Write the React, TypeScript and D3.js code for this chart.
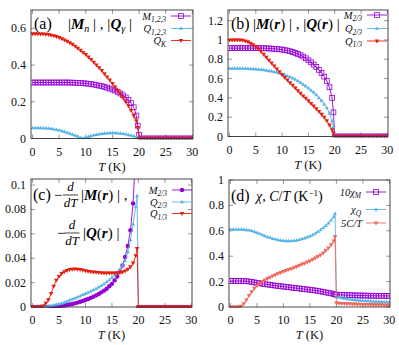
import React from 'react';
import * as d3 from 'd3';

// temperature grid (K)
const T = [
  0, 0.5, 1, 1.5, 2, 2.5, 3, 3.5, 4, 4.5,
  5, 5.5, 6, 6.5, 7, 7.5, 8, 8.5, 9, 9.5,
  10, 10.5, 11, 11.5, 12, 12.5, 13, 13.5, 14, 14.5,
  15, 15.5, 16, 16.5, 17, 17.5, 18, 18.5, 19, 19.5,
  19.75,
  20, 20.5, 21, 21.5, 22, 22.5, 23, 23.5, 24, 24.5, 25, 25.5, 26, 26.5, 27, 27.5, 28, 28.5, 29, 29.5, 30,
];

// (a) |M_n|, |Q_gamma|
const aM123 = [
  0.305, 0.305, 0.305, 0.305, 0.305, 0.305, 0.305, 0.305, 0.305, 0.305,
  0.305, 0.305, 0.305, 0.305, 0.305, 0.304, 0.304, 0.303, 0.302, 0.301,
  0.3, 0.298, 0.296, 0.294, 0.291, 0.288, 0.285, 0.281, 0.277, 0.272,
  0.267, 0.261, 0.254, 0.245, 0.235, 0.224, 0.21, 0.193, 0.17, 0.125,
  0.07,
  0.02, 0, 0, 0, 0, 0, 0, 0, 0, 0, 0, 0, 0, 0, 0, 0, 0, 0, 0, 0, 0,
];
const aQ123 = [
  0.057, 0.057, 0.057, 0.057, 0.056, 0.056, 0.055, 0.053, 0.051, 0.048,
  0.045, 0.041, 0.037, 0.032, 0.027, 0.022, 0.016, 0.011, 0.005, 0.001,
  0.006, 0.01, 0.014, 0.018, 0.021, 0.024, 0.026, 0.028, 0.029, 0.03,
  0.03, 0.03, 0.029, 0.028, 0.026, 0.023, 0.02, 0.016, 0.012, 0.007,
  0.004,
  0, 0, 0, 0, 0, 0, 0, 0, 0, 0, 0, 0, 0, 0, 0, 0, 0, 0, 0, 0, 0,
];
const aQK = [
  0.57, 0.57, 0.57, 0.569, 0.569, 0.568, 0.566, 0.563, 0.56, 0.555,
  0.55, 0.544, 0.537, 0.53, 0.522, 0.513, 0.503, 0.492, 0.481, 0.469,
  0.457, 0.444, 0.43, 0.415, 0.4, 0.385, 0.37, 0.353, 0.335, 0.318,
  0.3, 0.281, 0.262, 0.242, 0.222, 0.2, 0.178, 0.153, 0.125, 0.095,
  0.06,
  0, 0, 0, 0, 0, 0, 0, 0, 0, 0, 0, 0, 0, 0, 0, 0, 0, 0, 0, 0, 0,
];

// (b) |M(r)|, |Q(r)|
const bM23 = [
  0.915, 0.915, 0.915, 0.915, 0.915, 0.915, 0.915, 0.915, 0.915, 0.915,
  0.915, 0.915, 0.915, 0.914, 0.913, 0.912, 0.91, 0.908, 0.906, 0.903,
  0.9, 0.895, 0.89, 0.883, 0.875, 0.866, 0.855, 0.842, 0.827, 0.81,
  0.79, 0.768, 0.745, 0.72, 0.69, 0.658, 0.62, 0.575, 0.51, 0.4,
  0.25,
  0, 0, 0, 0, 0, 0, 0, 0, 0, 0, 0, 0, 0, 0, 0, 0, 0, 0, 0, 0, 0,
];
const bQ23 = [
  0.705, 0.705, 0.705, 0.705, 0.705, 0.704, 0.704, 0.703, 0.7, 0.699,
  0.697, 0.695, 0.692, 0.689, 0.685, 0.68, 0.675, 0.669, 0.663, 0.655,
  0.647, 0.638, 0.627, 0.616, 0.603, 0.59, 0.575, 0.558, 0.54, 0.52,
  0.5, 0.478, 0.455, 0.43, 0.4, 0.37, 0.335, 0.295, 0.24, 0.16,
  0.1,
  0, 0, 0, 0, 0, 0, 0, 0, 0, 0, 0, 0, 0, 0, 0, 0, 0, 0, 0, 0, 0,
];
const bQ13 = [
  1.0, 1.0, 1.0, 1.0, 1.0, 0.998, 0.99, 0.98, 0.965, 0.95,
  0.93, 0.906, 0.88, 0.851, 0.82, 0.79, 0.76, 0.73, 0.7, 0.67,
  0.64, 0.612, 0.585, 0.557, 0.53, 0.502, 0.475, 0.447, 0.42, 0.395,
  0.37, 0.342, 0.315, 0.287, 0.26, 0.23, 0.2, 0.163, 0.12, 0.07,
  0.04,
  0, 0, 0, 0, 0, 0, 0, 0, 0, 0, 0, 0, 0, 0, 0, 0, 0, 0, 0, 0, 0,
];

// (c) -d/dT |M(r)|, -d/dT |Q(r)|
const cM23 = [
  0, 0, 0, 0, 0, 0, 0, 0.0001, 0.0002, 0.0004,
  0.0006, 0.0009, 0.0012, 0.0016, 0.002, 0.0025, 0.003, 0.0036, 0.0043, 0.005,
  0.0058, 0.0066, 0.0075, 0.0085, 0.0095, 0.0107, 0.012, 0.0134, 0.015, 0.017,
  0.019, 0.0218, 0.025, 0.029, 0.034, 0.041, 0.05, 0.063, 0.085, 0.13,
  null,
  0, 0, 0, 0, 0, 0, 0, 0, 0, 0, 0, 0, 0, 0, 0, 0, 0, 0, 0, 0, 0,
];
const cQ23 = [
  0, 0, 0, 0, 0.0002, 0.0004, 0.0008, 0.0011, 0.0015, 0.002,
  0.0025, 0.003, 0.0038, 0.0046, 0.0055, 0.0063, 0.0072, 0.0081, 0.009, 0.01,
  0.011, 0.012, 0.013, 0.014, 0.015, 0.0162, 0.0175, 0.019, 0.0205, 0.0222,
  0.024, 0.026, 0.028, 0.031, 0.034, 0.038, 0.045, 0.055, 0.068, 0.082,
  0.091,
  0, 0, 0, 0, 0, 0, 0, 0, 0, 0, 0, 0, 0, 0, 0, 0, 0, 0, 0, 0, 0,
];
const cQ13 = [
  0, 0, 0, 0.0002, 0.0008, 0.003, 0.006, 0.011, 0.017, 0.022,
  0.025, 0.0275, 0.029, 0.03, 0.0307, 0.031, 0.0312, 0.031, 0.0307, 0.0303,
  0.0298, 0.0294, 0.029, 0.0287, 0.0285, 0.0282, 0.028, 0.0279, 0.0278, 0.0278,
  0.0278, 0.0278, 0.028, 0.0283, 0.0288, 0.0296, 0.031, 0.033, 0.036, 0.042,
  0.048,
  0, 0, 0, 0, 0, 0, 0, 0, 0, 0, 0, 0, 0, 0, 0, 0, 0, 0, 0, 0, 0,
];

// (d) chi, C/T
const dChiM10 = [
  0.205, 0.205, 0.205, 0.205, 0.205, 0.204, 0.203, 0.201, 0.198, 0.194,
  0.19, 0.187, 0.183, 0.18, 0.177, 0.174, 0.171, 0.168, 0.166, 0.163,
  0.161, 0.158, 0.156, 0.153, 0.151, 0.148, 0.146, 0.143, 0.141, 0.138,
  0.136, 0.133, 0.13, 0.127, 0.123, 0.119, 0.115, 0.111, 0.107, 0.102,
  0.1,
  0.097, 0.096, 0.095, 0.094, 0.093, 0.093, 0.092, 0.092, 0.091, 0.091, 0.09,
  0.09, 0.089, 0.089, 0.089, 0.088, 0.088, 0.088, 0.088, 0.087, 0.087,
];
const dChiQ = [
  0.61, 0.61, 0.61, 0.61, 0.61, 0.609, 0.607, 0.604, 0.6, 0.593,
  0.585, 0.577, 0.568, 0.56, 0.552, 0.545, 0.538, 0.533, 0.528, 0.525,
  0.522, 0.52, 0.52, 0.52, 0.522, 0.525, 0.53, 0.535, 0.542, 0.55,
  0.558, 0.568, 0.58, 0.592, 0.607, 0.622, 0.64, 0.66, 0.683, 0.71,
  0.735,
  0.08, 0.075, 0.071, 0.067, 0.064, 0.061, 0.058, 0.056, 0.054, 0.052, 0.05,
  0.048, 0.047, 0.045, 0.044, 0.043, 0.042, 0.041, 0.04, 0.039, 0.038,
];
const dC5 = [
  0, 0, 0, 0, 0.005, 0.025, 0.055, 0.09, 0.12, 0.148,
  0.168, 0.186, 0.2, 0.213, 0.225, 0.235, 0.245, 0.254, 0.263, 0.272,
  0.28, 0.288, 0.295, 0.302, 0.31, 0.318, 0.327, 0.336, 0.345, 0.354,
  0.363, 0.374, 0.385, 0.397, 0.41, 0.426, 0.445, 0.465, 0.49, 0.52,
  0.555,
  0.032, 0.03, 0.028, 0.027, 0.026, 0.025, 0.024, 0.023, 0.022, 0.021, 0.02,
  0.02, 0.019, 0.019, 0.018, 0.018, 0.017, 0.017, 0.016, 0.016, 0.015,
];

const xTicks = [0, 5, 10, 15, 20, 25, 30];
const aYTicks = ['0', '0.2', '0.4', '0.6'];
const bYTicks = ['0', '0.2', '0.4', '0.6', '0.8', '1', '1.2'];
const cYTicks = ['0', '0.02', '0.04', '0.06', '0.08', '0.1'];
const dYTicks = ['0', '0.2', '0.4', '0.6', '0.8', '1'];

const PURPLE = '#9400d3';
const CYAN = '#56b4e9';
const RED = '#e51e10';
const RED_LIGHT = '#f0685c';
const FONT = "'Liberation Serif', 'Times New Roman', serif";

type Kind = 'square' | 'tri' | 'itri' | 'circle';

function Marker({ kind, x, y, color }: { kind: Kind; x: number; y: number; color: string }) {
  if (kind === 'square')
    return <rect x={x - 2.4} y={y - 2.4} width={4.8} height={4.8} fill="none" stroke={color} strokeWidth={0.8} />;
  if (kind === 'tri')
    return <path d={`M${x},${y - 2.2}L${x + 2},${y + 1.3}L${x - 2},${y + 1.3}Z`} fill={color} />;
  if (kind === 'itri')
    return <path d={`M${x},${y + 2.5}L${x + 2.3},${y - 1.5}L${x - 2.3},${y - 1.5}Z`} fill={color} />;
  return <circle cx={x} cy={y} r={2.2} fill={color} />;
}

type Series = { values: (number | null)[]; color: string; kind: Kind };
type LegendItem = { label: React.ReactNode; color: string; kind: Kind; y: number };

type PanelProps = {
  id: string;
  box: { l: number; r: number; t: number; b: number };
  yMax: number;
  yTicks: string[];
  series: Series[];
  legend: LegendItem[];
  legendTextX: number;
  title: React.ReactNode;
};

function Panel({ id, box, yMax, yTicks, series, legend, legendTextX, title }: PanelProps) {
  const x = d3.scaleLinear().domain([-0.28, 30.12]).range([box.l, box.r]);
  const y = d3.scaleLinear().domain([0, yMax]).range([box.b, box.t]);
  const line = d3
    .line<number | null>()
    .defined((d) => d !== null)
    .x((_, i) => x(T[i]))
    .y((d) => y(d as number));

  return (
    <g style={{ fontFamily: FONT }}>
      <defs>
        <clipPath id={'clip-' + id}>
          <rect x={box.l} y={box.t} width={box.r - box.l} height={box.b - box.t + 1} />
        </clipPath>
      </defs>
      {/* ticks inside, mirrored */}
      {xTicks.map((t) => (
        <g key={'xt' + t}>
          <line x1={x(t)} x2={x(t)} y1={box.b} y2={box.b - 4} stroke="#555" strokeWidth={0.6} />
          <line x1={x(t)} x2={x(t)} y1={box.t} y2={box.t + 4} stroke="#555" strokeWidth={0.6} />
          <text x={x(t)} y={box.b + 17} fontSize={12} textAnchor="middle" fill="#111">
            {t}
          </text>
        </g>
      ))}
      {yTicks.map((t) => (
        <g key={'yt' + t}>
          <line x1={box.l} x2={box.l + 4} y1={y(+t)} y2={y(+t)} stroke="#555" strokeWidth={0.6} />
          <line x1={box.r} x2={box.r - 4} y1={y(+t)} y2={y(+t)} stroke="#555" strokeWidth={0.6} />
          <text x={box.l - 5} y={y(+t) + 4} fontSize={12} textAnchor="end" fill="#111">
            {t}
          </text>
        </g>
      ))}
      <text x={(box.l + box.r) / 2} y={box.b + 32} fontSize={12.5} textAnchor="middle" fill="#111">
        <tspan fontStyle="italic">T</tspan> (K)
      </text>
      <g clipPath={`url(#clip-${id})`}>
        {series.map((s, k) => (
          <g key={k}>
            <path d={line(s.values) || ''} fill="none" stroke={s.color} strokeWidth={0.9} />
            {s.values.map((v, i) =>
              v === null ? null : <Marker key={i} kind={s.kind} x={x(T[i])} y={y(v)} color={s.color} />
            )}
          </g>
        ))}
      </g>
      <rect x={box.l} y={box.t} width={box.r - box.l} height={box.b - box.t} fill="none" stroke="#333" strokeWidth={0.9} />
      {title}
      {legend.map((it, k) => (
        <g key={'lg' + k}>
          <text x={legendTextX} y={it.y + 3.5} fontSize={10.5} fontStyle="italic" textAnchor="end" fill="#111">
            {it.label}
          </text>
          <line x1={legendTextX + 4} x2={legendTextX + 24} y1={it.y} y2={it.y} stroke={it.color} strokeWidth={0.9} />
          <Marker kind={it.kind} x={legendTextX + 14} y={it.y} color={it.color} />
        </g>
      ))}
    </g>
  );
}

const sub = (s: string) => (
  <>
    <tspan fontSize={7.5} dy={2.5}>
      {s}
    </tspan>
    <tspan dy={-2.5}>{'\u200a'}</tspan>
  </>
);
const B = ({ children }: { children: React.ReactNode }) => (
  <tspan fontWeight="bold" fontStyle="italic">
    {children}
  </tspan>
);

export default function App() {
  const titleA = (
    <g>
      <text x={34} y={29} fontSize={16}>(a)</text>
      <text x={68} y={29} fontSize={15}>
        |<B>M</B>
        <tspan fontStyle="italic" fontSize={10} dy={3}>n</tspan>
        <tspan dy={-3}> | , |</tspan>
        <B>Q</B>
        <tspan fontStyle="italic" fontSize={10} dy={3}>γ</tspan>
        <tspan dy={-3}> |</tspan>
      </text>
    </g>
  );
  const titleB = (
    <g>
      <text x={231} y={29} fontSize={16}>(b)</text>
      <text x={253} y={29} fontSize={15}>
        |<B>M</B>(<B>r</B>) | , |<B>Q</B>(<B>r</B>) |
      </text>
    </g>
  );
  const titleC = (
    <g fontSize={15}>
      <text x={33} y={200} fontSize={16}>(c)</text>
      <text x={54} y={200}>−</text>
      <text x={70.5} y={191} textAnchor="middle" fontStyle="italic" fontSize={13}>d</text>
      <line x1={63} x2={78} y1={195} y2={195} stroke="#111" strokeWidth={0.8} />
      <text x={70.5} y={207} textAnchor="middle" fontStyle="italic" fontSize={13}>dT</text>
      <text x={81} y={200}>
        |<B>M</B>(<B>r</B>) | ,
      </text>
      <text x={57} y={238}>−</text>
      <text x={72} y={229} textAnchor="middle" fontStyle="italic" fontSize={13}>d</text>
      <line x1={64.5} x2={79.5} y1={233} y2={233} stroke="#111" strokeWidth={0.8} />
      <text x={72} y={245} textAnchor="middle" fontStyle="italic" fontSize={13}>dT</text>
      <text x={83} y={238}>
        |<B>Q</B>(<B>r</B>) |
      </text>
    </g>
  );
  const titleD = (
    <g>
      <text x={231} y={201} fontSize={16}>(d)</text>
      <text x={256} y={201} fontSize={14}>
        <tspan fontStyle="italic">χ</tspan>, <tspan fontStyle="italic">C</tspan>/<tspan fontStyle="italic">T</tspan> (K
        <tspan fontSize={9} dy={-5}>−1</tspan>
        <tspan dy={5}>)</tspan>
      </text>
    </g>
  );

  return (
    <svg width={399} height={345} style={{ position: 'absolute', left: 0, top: 0, background: '#fff' }}>
      <Panel
        id="a"
        box={{ l: 31, r: 193, t: 10, b: 138.5 }}
        yMax={0.7}
        yTicks={aYTicks}
        series={[
          { values: aM123, color: PURPLE, kind: 'square' },
          { values: aQ123, color: CYAN, kind: 'tri' },
          { values: aQK, color: RED, kind: 'itri' },
        ]}
        legendTextX={167}
        legend={[
          { label: <>M{sub('1,2,3')}</>, color: PURPLE, kind: 'square', y: 16 },
          { label: <>Q{sub('1,2,3')}</>, color: CYAN, kind: 'tri', y: 28.5 },
          { label: <>Q{sub('K')}</>, color: RED, kind: 'itri', y: 40.5 },
        ]}
        title={titleA}
      />
      <Panel
        id="b"
        box={{ l: 228, r: 388, t: 10, b: 136.5 }}
        yMax={1.31}
        yTicks={bYTicks}
        series={[
          { values: bM23, color: PURPLE, kind: 'square' },
          { values: bQ23, color: CYAN, kind: 'tri' },
          { values: bQ13, color: RED, kind: 'itri' },
        ]}
        legendTextX={363}
        legend={[
          { label: <>M{sub('2/3')}</>, color: PURPLE, kind: 'square', y: 15 },
          { label: <>Q{sub('2/3')}</>, color: CYAN, kind: 'tri', y: 28.5 },
          { label: <>Q{sub('1/3')}</>, color: RED, kind: 'itri', y: 41 },
        ]}
        title={titleB}
      />
      <Panel
        id="c"
        box={{ l: 31, r: 192, t: 179, b: 307 }}
        yMax={0.105}
        yTicks={cYTicks}
        series={[
          { values: cM23, color: PURPLE, kind: 'circle' },
          { values: cQ23, color: CYAN, kind: 'tri' },
          { values: cQ13, color: RED, kind: 'itri' },
        ]}
        legendTextX={168}
        legend={[
          { label: <>M{sub('2/3')}</>, color: PURPLE, kind: 'circle', y: 190 },
          { label: <>Q{sub('2/3')}</>, color: CYAN, kind: 'tri', y: 202 },
          { label: <>Q{sub('1/3')}</>, color: RED, kind: 'itri', y: 213.5 },
        ]}
        title={titleC}
      />
      <Panel
        id="d"
        box={{ l: 229, r: 390, t: 180, b: 307 }}
        yMax={1}
        yTicks={dYTicks}
        series={[
          { values: dChiM10, color: PURPLE, kind: 'square' },
          { values: dChiQ, color: CYAN, kind: 'tri' },
          { values: dC5, color: RED_LIGHT, kind: 'itri' },
        ]}
        legendTextX={362}
        legend={[
          { label: <>10χ{sub('M')}</>, color: PURPLE, kind: 'square', y: 192 },
          { label: <>χ{sub('Q')}</>, color: CYAN, kind: 'tri', y: 209.5 },
          { label: <>5C/T</>, color: RED_LIGHT, kind: 'itri', y: 223 },
        ]}
        title={titleD}
      />
    </svg>
  );
}
